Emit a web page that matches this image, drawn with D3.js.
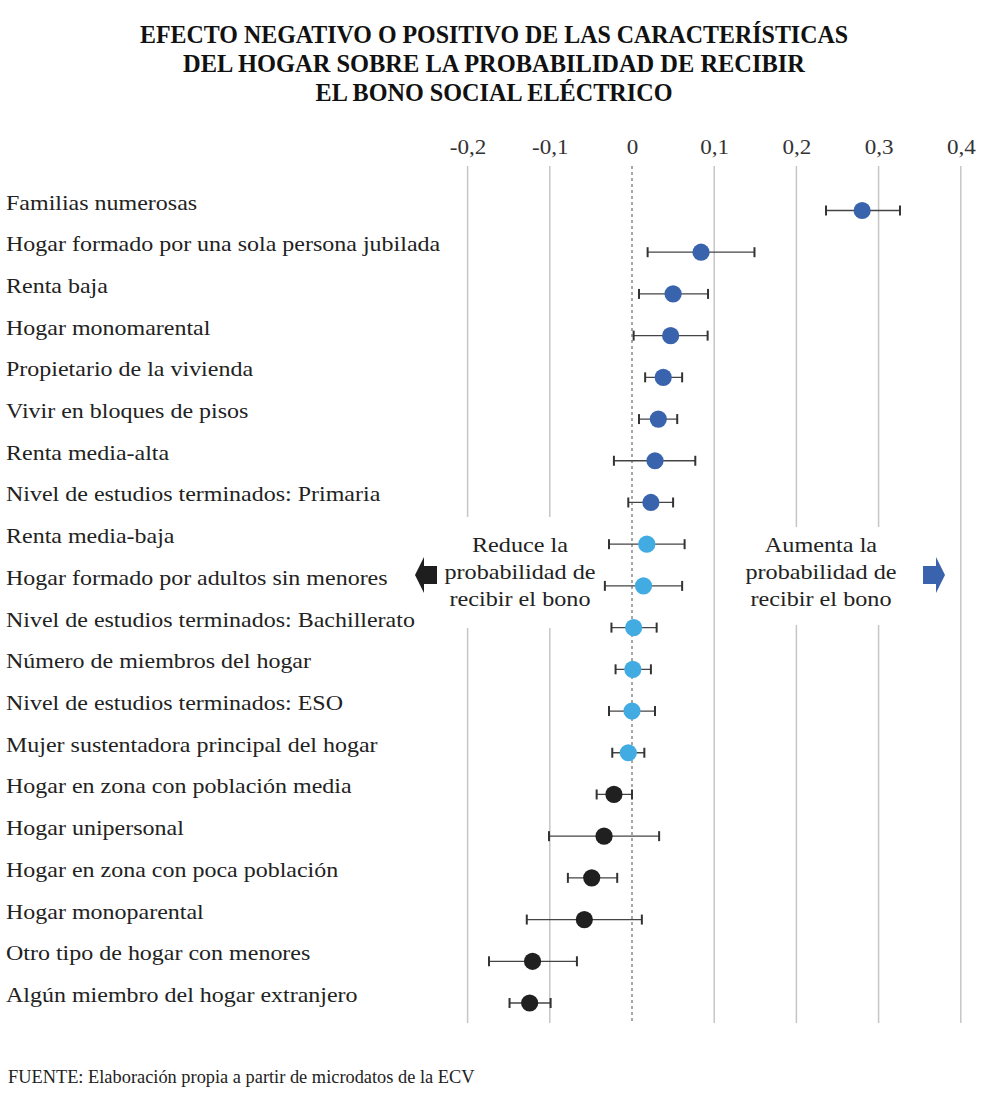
<!DOCTYPE html>
<html>
<head>
<meta charset="utf-8">
<script src="https://cdn.jsdelivr.net/npm/d3@7"></script>
<style>
  html, body { margin: 0; padding: 0; background: #ffffff; }
  svg { display: block; }
</style>
</head>
<body>
<svg id="chart" width="990" height="1118"></svg>
<script>
const titleLines = [
  "EFECTO NEGATIVO O POSITIVO DE LAS CARACTERÍSTICAS",
  "DEL HOGAR SOBRE LA PROBABILIDAD DE RECIBIR",
  "EL BONO SOCIAL ELÉCTRICO"
];
const categories = [
  "Familias numerosas",
  "Hogar formado por una sola persona jubilada",
  "Renta baja",
  "Hogar monomarental",
  "Propietario de la vivienda",
  "Vivir en bloques de pisos",
  "Renta media-alta",
  "Nivel de estudios terminados: Primaria",
  "Renta media-baja",
  "Hogar formado por adultos sin menores",
  "Nivel de estudios terminados: Bachillerato",
  "Número de miembros del hogar",
  "Nivel de estudios terminados: ESO",
  "Mujer sustentadora principal del hogar",
  "Hogar en zona con población media",
  "Hogar unipersonal",
  "Hogar en zona con poca población",
  "Hogar monoparental",
  "Otro tipo de hogar con menores",
  "Algún miembro del hogar extranjero"
];
const estimates = [0.280, 0.084, 0.050, 0.047, 0.038, 0.032, 0.028, 0.023, 0.018, 0.014,
                   0.002, 0.001, 0.000, -0.0045, -0.022, -0.034, -0.049, -0.058, -0.121, -0.1245];
const lowerCI = [0.236, 0.019, 0.0085, 0.002, 0.016, 0.0085, -0.022, -0.0045, -0.028, -0.033,
                 -0.025, -0.020, -0.028, -0.024, -0.043, -0.101, -0.078, -0.128, -0.174, -0.149];
const upperCI = [0.326, 0.149, 0.0925, 0.092, 0.061, 0.055, 0.077, 0.050, 0.064, 0.061,
                 0.030, 0.023, 0.028, 0.015, 0.000, 0.033, -0.018, 0.012, -0.067, -0.099];
const effectGroup = ["pos","pos","pos","pos","pos","pos","pos","pos",
                     "ns","ns","ns","ns","ns","ns",
                     "neg","neg","neg","neg","neg","neg"];
const tickValues = [-0.2, -0.1, 0, 0.1, 0.2, 0.3, 0.4];
const tickLabels = ["-0,2", "-0,1", "0", "0,1", "0,2", "0,3", "0,4"];
const leftNote = ["Reduce la", "probabilidad de", "recibir el bono"];
const rightNote = ["Aumenta la", "probabilidad de", "recibir el bono"];
const sourceLabel = "FUENTE:";
const sourceText = " Elaboración propia a partir de microdatos de la ECV";

const groupColor = { pos: "#3a63ad", ns: "#42ace2", neg: "#202020" };
const serif = "'Liberation Serif', 'Times New Roman', serif";

const svg = d3.select("#chart");
const data = categories.map((c, i) => ({
  cat: c, est: estimates[i], lo: lowerCI[i], hi: upperCI[i], g: effectGroup[i]
}));

// widen the Times-like face to match the reference's broader serif
function stretch(sel, k) {
  sel.each(function () {
    const w = this.getComputedTextLength();
    d3.select(this).attr("textLength", w * k).attr("lengthAdjust", "spacingAndGlyphs");
  });
}

const x = d3.scaleLinear().domain([-0.2, 0.4]).range([467.6, 960.8]);
const y = d3.scalePoint().domain(categories).range([210.5, 1003]);
const gridTop = 166, gridBottom = 1023;

// Title
const titleWidths = [708, 622, 357];
svg.append("g").selectAll("text").data(titleLines).join("text")
  .attr("x", 494).attr("y", (d, i) => 43 + i * 29)
  .attr("text-anchor", "middle")
  .attr("font-family", serif).attr("font-weight", "bold").attr("font-size", 25)
  .attr("fill", "#111")
  .attr("textLength", (d, i) => titleWidths[i])
  .attr("lengthAdjust", "spacingAndGlyphs")
  .text(d => d);

// Axis labels (top)
const fmt = d3.scaleOrdinal().domain(tickValues).range(tickLabels);
const axis = svg.append("g").attr("transform", `translate(0,${gridTop - 12})`)
  .call(d3.axisTop(x).tickValues(tickValues).tickSize(0).tickPadding(0).tickFormat(d => fmt(d)));
axis.select(".domain").remove();
axis.selectAll("text").attr("font-family", serif).attr("font-size", 22).attr("fill", "#333");
stretch(axis.selectAll("text"), 1.05);

// Grid lines
svg.append("g").selectAll("line").data(tickValues.filter(t => t !== 0)).join("line")
  .attr("x1", d => x(d)).attr("x2", d => x(d))
  .attr("y1", gridTop).attr("y2", gridBottom)
  .attr("stroke", "#c6c6c6").attr("stroke-width", 1.5);

// White boxes behind annotations
svg.append("rect").attr("x", 442).attr("y", 517).attr("width", 157).attr("height", 111).attr("fill", "#fff");
svg.append("rect").attr("x", 744).attr("y", 527).attr("width", 154).attr("height", 98).attr("fill", "#fff");

// Zero line
svg.append("line")
  .attr("x1", x(0)).attr("x2", x(0)).attr("y1", gridTop).attr("y2", gridBottom)
  .attr("stroke", "#8a8a8a").attr("stroke-width", 1.5).attr("stroke-dasharray", "3,3");

// Category labels
const labels = svg.append("g").selectAll("text").data(data).join("text")
  .attr("x", 6).attr("y", d => y(d.cat) - 1)
  .attr("font-family", serif).attr("font-size", 22).attr("fill", "#222")
  .text(d => d.cat);
stretch(labels, 1.09);

// Error bars
const eb = svg.append("g").selectAll("g").data(data).join("g");
eb.append("line")
  .attr("x1", d => x(d.lo)).attr("x2", d => x(d.hi))
  .attr("y1", d => y(d.cat)).attr("y2", d => y(d.cat))
  .attr("stroke", "#444").attr("stroke-width", 1.3);
eb.append("line")
  .attr("x1", d => x(d.lo)).attr("x2", d => x(d.lo))
  .attr("y1", d => y(d.cat) - 5).attr("y2", d => y(d.cat) + 5)
  .attr("stroke", "#333").attr("stroke-width", 2);
eb.append("line")
  .attr("x1", d => x(d.hi)).attr("x2", d => x(d.hi))
  .attr("y1", d => y(d.cat) - 5).attr("y2", d => y(d.cat) + 5)
  .attr("stroke", "#333").attr("stroke-width", 2);

// Dots
svg.append("g").selectAll("circle").data(data).join("circle")
  .attr("cx", d => x(d.est)).attr("cy", d => y(d.cat)).attr("r", 8.6)
  .attr("fill", d => groupColor[d.g]);

// Annotations
const ln = svg.append("g").selectAll("text").data(leftNote).join("text")
  .attr("x", 520).attr("y", (d, i) => 552 + i * 27)
  .attr("text-anchor", "middle").attr("font-family", serif).attr("font-size", 22).attr("fill", "#222")
  .text(d => d);
stretch(ln, 1.1);
const rn = svg.append("g").selectAll("text").data(rightNote).join("text")
  .attr("x", 821).attr("y", (d, i) => 552 + i * 27)
  .attr("text-anchor", "middle").attr("font-family", serif).attr("font-size", 22).attr("fill", "#222")
  .text(d => d);
stretch(rn, 1.1);

// Arrows
const cy = 575;
svg.append("path")
  .attr("d", `M415,${cy} L424,${cy - 18} L424,${cy - 9} L437,${cy - 9} L437,${cy + 9} L424,${cy + 9} L424,${cy + 18} Z`)
  .attr("fill", "#1e1e1e");
svg.append("path")
  .attr("d", `M945,${cy} L936,${cy - 18} L936,${cy - 9} L923,${cy - 9} L923,${cy + 9} L936,${cy + 9} L936,${cy + 18} Z`)
  .attr("fill", "#3a63ad");

// Source
const src = svg.append("text").attr("x", 8).attr("y", 1083)
  .attr("font-family", serif).attr("font-size", 18).attr("fill", "#222");
src.append("tspan").text(sourceLabel);
src.append("tspan").text(sourceText);
stretch(src, 1.02);
</script>
</body>
</html>
